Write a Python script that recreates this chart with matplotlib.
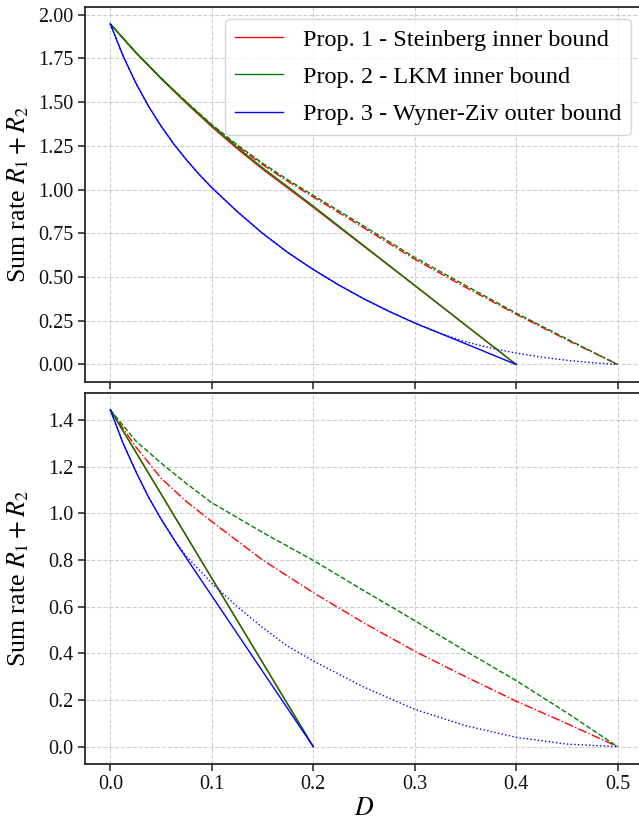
import matplotlib
matplotlib.use("Agg")
import matplotlib.pyplot as plt
import matplotlib.ticker as mticker

# ---------------- data ----------------
# Top panel
top_D_in = [0.0, 0.025, 0.05, 0.075, 0.1, 0.125, 0.15, 0.175, 0.2, 0.25, 0.3, 0.35, 0.4]
top_steinberg = [1.947, 1.784, 1.634, 1.493, 1.359, 1.234, 1.117, 1.008, 0.899, 0.675, 0.451, 0.225, 0.0]
top_lkm = [1.947, 1.785, 1.637, 1.498, 1.366, 1.242, 1.125, 1.016, 0.906, 0.679, 0.453, 0.226, 0.0]

top_D_dash = [0.0, 0.025, 0.05, 0.075, 0.1, 0.125, 0.15, 0.175, 0.2, 0.25, 0.3, 0.35, 0.4, 0.45, 0.5]
top_steinberg_alt = [1.947, 1.785, 1.637, 1.499, 1.368, 1.250, 1.143, 1.047, 0.958, 0.781, 0.602, 0.442, 0.287, 0.141, 0.0]
top_lkm_alt = [1.947, 1.785, 1.638, 1.501, 1.372, 1.256, 1.151, 1.056, 0.967, 0.791, 0.612, 0.452, 0.294, 0.146, 0.0]

top_D_wz = [0.0, 0.0125, 0.025, 0.0375, 0.05, 0.0625, 0.075, 0.0875, 0.1, 0.125, 0.15, 0.175,
            0.2, 0.225, 0.25, 0.275, 0.3, 0.325, 0.35, 0.375, 0.4, 0.425, 0.45, 0.475, 0.5]
top_wz_curve = [1.947, 1.765, 1.611, 1.478, 1.363, 1.261, 1.170, 1.087, 1.011, 0.875, 0.75, 0.64,
                0.543, 0.455, 0.375, 0.303, 0.237, 0.178, 0.13, 0.094, 0.065, 0.042, 0.024, 0.01, 0.0]
top_wz_cut_D = 0.4      # outer bound tangent line ends at (0.4, 0)
top_wz_tangent_D = 0.325

# Bottom panel
bot_D_in = [0.0, 0.1, 0.2]
bot_steinberg = [1.443, 0.721, 0.0]
bot_lkm = [1.443, 0.722, 0.0]

bot_D_dash = [0.0, 0.025, 0.05, 0.075, 0.1, 0.15, 0.2, 0.25, 0.3, 0.35, 0.4, 0.45, 0.5]
bot_steinberg_alt = [1.443, 1.285, 1.15, 1.05, 0.964, 0.80, 0.66, 0.53, 0.409, 0.30, 0.195, 0.099, 0.0]
bot_lkm_alt = [1.443, 1.31, 1.215, 1.127, 1.045, 0.918, 0.798, 0.668, 0.54, 0.41, 0.283, 0.145, 0.0]

bot_D_wz = [0.0, 0.0125, 0.025, 0.0375, 0.05, 0.065, 0.075, 0.1, 0.125, 0.15, 0.175, 0.2,
            0.25, 0.3, 0.35, 0.4, 0.45, 0.5]
bot_wz_curve = [1.443, 1.30, 1.18, 1.07, 0.975, 0.872, 0.815, 0.70, 0.60, 0.51, 0.43, 0.367,
                0.255, 0.16, 0.09, 0.04, 0.011, 0.0]
bot_wz_cut_D = 0.2
bot_wz_tangent_D = 0.065

labels = ["Prop. 1 - Steinberg inner bound",
          "Prop. 2 - LKM inner bound",
          "Prop. 3 - Wyner-Ziv outer bound"]
xticks = [0.0, 0.1, 0.2, 0.3, 0.4, 0.5]
top_yticks = [0.0, 0.25, 0.5, 0.75, 1.0, 1.25, 1.5, 1.75, 2.0]
bot_yticks = [0.0, 0.2, 0.4, 0.6, 0.8, 1.0, 1.2, 1.4]
ylabel = r"Sum rate $R_1 + R_2$"
xlabel = r"$D$"

# ---------------- style ----------------
plt.rcParams["font.family"] = ["Liberation Serif", "DejaVu Serif"]
plt.rcParams["mathtext.fontset"] = "stix"
plt.rcParams["font.size"] = 14.5
SPINE = "#1f1f1f"

fig = plt.figure(figsize=(6.39, 8.19), dpi=100)
W, H = 639.0, 819.0
ax1 = fig.add_axes([85 / W, 1 - 381.5 / H, 558 / W, 374.5 / H])
ax2 = fig.add_axes([85 / W, 1 - 763.5 / H, 558 / W, 370.5 / H], sharex=ax1)


def outer_bound(D, curve, tangent_D, cut_D):
    xs = [d for d in D if d <= tangent_D]
    ys = [v for d, v in zip(D, curve) if d <= tangent_D]
    return xs + [cut_D], ys + [0.0]


def draw(ax, D_in, st, lk, D_dash, st_alt, lk_alt, D_wz, wz, tD, cD, legend):
    lw = 1.0
    ax.plot(D_in, st, color="red", lw=lw, label=labels[0])
    ax.plot(D_dash, st_alt, color="red", lw=lw, ls="-.")
    ax.plot(D_in, lk, color="green", lw=lw, label=labels[1])
    ax.plot(D_dash, lk_alt, color="green", lw=lw, ls="--")
    wx, wy = outer_bound(D_wz, wz, tD, cD)
    ax.plot(wx, wy, color="blue", lw=lw, label=labels[2])
    ax.plot(D_wz, wz, color="blue", lw=lw, ls=":")
    ax.grid(True, ls="--", color="#b0b0b0", lw=0.8, alpha=0.6)
    ax.set_axisbelow(True)
    for s in ax.spines.values():
        s.set_color(SPINE)
        s.set_linewidth(1.25)
    ax.tick_params(direction="out", length=5, width=1.1, color=SPINE, labelcolor="#111111")
    ax.set_ylabel(ylabel, fontsize=18.6)
    ax.yaxis.set_label_coords(-0.097, 0.5)
    if legend:
        ax.legend(loc="upper right", fontsize=17.5, labelspacing=0.62,
                  framealpha=0.8, edgecolor="#cccccc")


draw(ax1, top_D_in, top_steinberg, top_lkm, top_D_dash, top_steinberg_alt, top_lkm_alt,
     top_D_wz, top_wz_curve, top_wz_tangent_D, top_wz_cut_D, True)
draw(ax2, bot_D_in, bot_steinberg, bot_lkm, bot_D_dash, bot_steinberg_alt, bot_lkm_alt,
     bot_D_wz, bot_wz_curve, bot_wz_tangent_D, bot_wz_cut_D, False)

ax1.set_yticks(top_yticks)
ax1.yaxis.set_major_formatter(mticker.FormatStrFormatter("%.2f"))
ax2.set_yticks(bot_yticks)
ax2.yaxis.set_major_formatter(mticker.FormatStrFormatter("%.1f"))
ax2.set_xticks(xticks)
ax2.xaxis.set_major_formatter(mticker.FormatStrFormatter("%.1f"))
ax1.tick_params(labelbottom=False)
ax2.set_xlabel(xlabel, fontsize=18.6, labelpad=3)

fig.savefig("out.png", dpi=100)
